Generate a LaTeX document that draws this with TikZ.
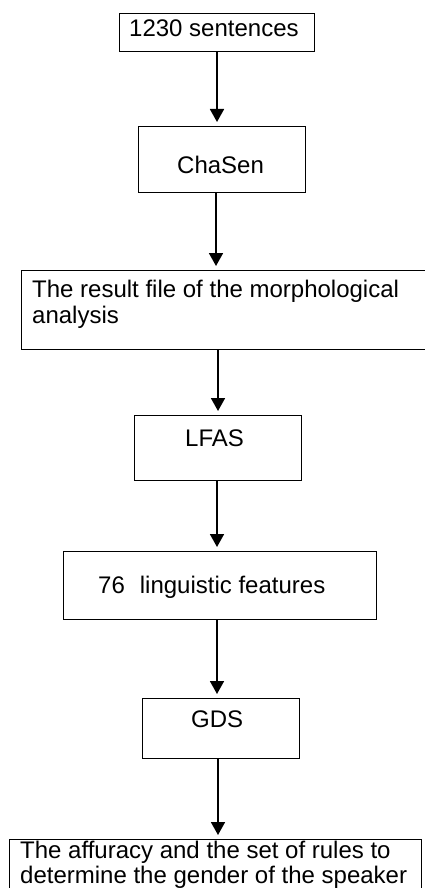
\documentclass[tikz,border=0pt]{standalone}
\usepackage{fontspec}
\setmainfont{Liberation Sans}
\usetikzlibrary{arrows.meta}
\begin{document}
\begin{tikzpicture}[x=1pt,y=-1pt,
  box/.style={draw, line width=1.2pt, inner sep=0pt, anchor=north west},
  lbl/.style={anchor=base west, inner sep=0pt, font=\fontsize{24}{26}\selectfont},
  flow/.style={line width=1.8pt, -{Triangle[width=14pt,length=13pt]}, shorten >=4pt}]
\useasboundingbox (0,0) rectangle (425,888);
\clip (0,0) rectangle (425,888);
\fill[white] (0,0) rectangle (425,888);
% boxes
\node[box, minimum width=195pt, minimum height=38pt] (b1) at (119,13) {};
\node[box, minimum width=167pt, minimum height=66pt] (b2) at (138,126) {};
\node[box, minimum width=430pt, minimum height=79pt] (b3) at (21,270) {};
\node[box, minimum width=167pt, minimum height=65pt] (b4) at (134,415) {};
\node[box, minimum width=313pt, minimum height=68pt] (b5) at (63,551) {};
\node[box, minimum width=157pt, minimum height=60pt] (b6) at (142,698) {};
\node[box, minimum width=412pt, minimum height=80pt] (b7) at (9,839) {};
% texts
\node[lbl] (t1) at (129,37) {1230 sentences};
\node[lbl] (t2) at (177,173) {ChaSen};
\node[lbl] (t3a) at (32,297) {The result file of the morphological};
\node[lbl] (t3b) at (32,323) {analysis};
\node[lbl] (t4) at (185,446) {LFAS};
\node[lbl] (t5) at (98,593) {76\hspace{15pt}linguistic features};
\node[lbl] (t6) at (191,727) {GDS};
\node[lbl] (t7a) at (20,858) {The affuracy and the set of rules to};
\node[lbl] (t7b) at (20,883) {determine the gender of the speaker};
% arrow columns
\coordinate (x1) at (217,0);
\coordinate (x2) at (216,0);
\coordinate (x3) at (218,0);
\coordinate (x4) at (217,0);
\coordinate (x5) at (217,0);
\coordinate (x6) at (218,0);
% connectors
\draw[flow] (b1.south -| x1) -- (b2.north -| x1);
\draw[flow] (b2.south -| x2) -- (b3.north -| x2);
\draw[flow] (b3.south -| x3) -- (b4.north -| x3);
\draw[flow] (b4.south -| x4) -- (b5.north -| x4);
\draw[flow] (b5.south -| x5) -- (b6.north -| x5);
\draw[flow] (b6.south -| x6) -- (b7.north -| x6);
\end{tikzpicture}
\end{document}
